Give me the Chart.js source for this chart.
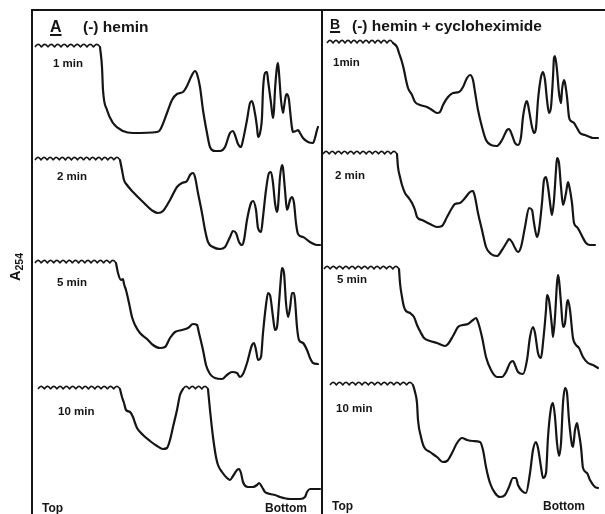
<!DOCTYPE html>
<html><head><meta charset="utf-8">
<script src="https://cdn.jsdelivr.net/npm/chart.js@4"></script>
<style>
html,body{margin:0;padding:0;background:#fff;}
#wrap{position:relative;width:605px;height:514px;overflow:hidden;font-family:"Liberation Sans",Arial,sans-serif;font-weight:bold;color:#151515;}
.ln{position:absolute;background:#151515;}
.t{position:absolute;line-height:1;white-space:nowrap;}
canvas{position:absolute;top:0;}
</style></head>
<body><div id="wrap">
<div class="ln" style="left:31px;top:9px;width:574px;height:2px"></div>
<div class="ln" style="left:31px;top:9px;width:2px;height:505px"></div>
<div class="ln" style="left:321px;top:9px;width:2px;height:505px"></div>
<canvas id="cA" width="290" height="514" style="left:32px;width:290px;height:514px"></canvas>
<canvas id="cB" width="283" height="514" style="left:322px;width:283px;height:514px"></canvas>

<div class="t" style="left:50px;top:18.5px;font-size:16px;text-decoration:underline;text-decoration-thickness:2px;text-underline-offset:2px">A</div>
<div class="t" style="left:83px;top:19px;font-size:15.5px">(-) hemin</div>
<div class="t" style="left:330px;top:17px;font-size:14px;text-decoration:underline;text-decoration-thickness:2px;text-underline-offset:2px">B</div>
<div class="t" style="left:352px;top:17.5px;font-size:15.5px">(-) hemin + cycloheximide</div>

<div class="t" style="left:53px;top:58px;font-size:11.5px">1 min</div>
<div class="t" style="left:57px;top:171px;font-size:11.5px">2 min</div>
<div class="t" style="left:57px;top:277px;font-size:11.5px">5 min</div>
<div class="t" style="left:58px;top:406px;font-size:11.5px">10 min</div>
<div class="t" style="left:333px;top:57px;font-size:11.5px">1min</div>
<div class="t" style="left:335px;top:170px;font-size:11.5px">2 min</div>
<div class="t" style="left:337px;top:274px;font-size:11.5px">5 min</div>
<div class="t" style="left:336px;top:403px;font-size:11.5px">10 min</div>

<div class="t" style="left:42px;top:502px;font-size:12px">Top</div>
<div class="t" style="left:265px;top:502px;font-size:12px">Bottom</div>
<div class="t" style="left:332px;top:500px;font-size:12px">Top</div>
<div class="t" style="left:543px;top:500px;font-size:12px">Bottom</div>

<div class="t" style="left:-4px;top:259px;width:40px;height:16px;text-align:center;transform:rotate(-90deg);will-change:transform;font-size:14.5px">A<span style="font-size:10.5px;position:relative;top:3px">254</span></div>
</div>
<script>
// Panel A: (-) hemin — x: distance from top of gradient, y: A254 deflection
const xA1 = [68,70,71,75,81,91,101,125,128,135,140,145,151,155,160,163,165,168,171,175,178,183,188,193,198,201,203,206,209,211,215,218,220,222,225,226,228,230,231,233,235,236,239,241,242,243,245,246,247,249,251,252,254,255,257,258,260,261,264,266,268,271,276,281,283,285,286];
const yA1 = [103,83,60,40,27,19,17,18,20,37,50,56,58,64,75,79,76,63,40,17,3,-1,-1,3,17,19,15,6,3,10,30,47,49,42,23,13,17,33,60,77,78,70,47,32,40,60,83,87,77,50,37,43,55,56,50,40,22,18,19,20,17,12,8,7,12,20,23];
const offA1 = [[3,68,103]];

const xA2 = [88,90,92,95,101,111,121,126,131,138,145,150,155,158,161,163,166,170,173,176,181,188,193,198,201,204,207,210,212,215,219,221,224,226,229,231,234,237,239,241,243,245,246,248,250,251,253,255,256,258,260,262,264,266,271,278,285,288];
const yA2 = [100,90,80,75,68,58,49,47,49,60,73,77,79,85,87,83,67,47,30,18,13,11,13,23,29,27,18,15,20,40,57,59,50,32,28,43,70,87,88,77,57,48,53,83,95,92,70,50,52,60,63,57,37,26,23,18,15,15];
const offA2 = [[3,88,100]];

const xA5 = [84,86,89,91,92,94,97,100,103,108,115,121,128,133,138,143,150,156,161,165,167,171,174,178,183,190,195,200,205,208,211,215,220,222,224,226,229,231,234,236,238,241,243,245,247,249,250,252,254,256,258,260,262,263,265,267,271,275,278,281,286];
const yA5 = [127,117,110,111,106,100,87,73,65,57,51,45,42,43,52,58,60,62,66,65,57,40,25,16,12,11,15,18,17,13,16,27,45,47,40,30,33,57,85,97,95,73,60,63,87,113,122,117,87,73,82,97,97,90,63,50,47,40,32,27,26];
const offA5 = [[3,84,127]];

const xA10 = [88,90,92,94,98,101,103,105,111,118,125,131,135,138,141,145,148,151,163,176,178,181,184,186,190,195,198,201,205,207,209,211,216,221,225,227,230,233,238,243,248,258,268,273,275,278,283,288];
const yA10 = [121,113,107,100,98,93,87,82,75,69,64,61,62,70,83,100,115,121,null,121,100,73,53,45,38,32,30,34,40,41,37,28,23,23,25,27,23,18,16,15,13,11,11,13,18,21,21,21];
const offA10 = [[6,88,121],[151,176,121]];

// Panel B: (-) hemin + cycloheximide
const xB1 = [71,75,77,80,82,84,86,90,93,98,105,110,115,118,121,126,131,137,141,145,148,151,153,156,160,164,169,175,180,185,187,190,193,196,199,201,204,205,207,210,212,214,216,219,221,223,225,227,229,231,232,233,235,237,239,240,242,243,245,247,249,252,255,258,263,268,271,276];
const yB1 = [107,103,97,88,80,70,62,55,48,45,43,40,37,38,45,53,57,58,63,72,75,70,58,40,23,10,5,4,10,20,21,15,7,5,13,33,48,49,40,23,17,22,50,73,78,70,50,37,43,73,92,94,80,57,47,60,70,67,53,33,29,27,22,17,15,13,12,12];
const offB1 = [[5,71,107]];

const xB2 = [75,76,78,80,83,86,90,93,95,100,108,115,120,125,130,133,138,143,148,151,153,156,160,164,169,175,180,185,187,190,193,196,199,203,207,210,212,215,217,220,222,224,226,229,230,232,234,235,237,239,241,244,246,247,250,252,255,258,261,264,268,273];
const yB2 = [106,93,83,75,67,63,57,50,43,40,36,33,34,43,52,56,57,62,68,69,63,47,30,13,6,4,10,18,21,18,12,8,13,33,52,50,37,23,30,57,80,83,73,50,45,60,90,102,97,73,55,67,78,75,57,37,33,28,22,17,15,15];
const offB2 = [[1,75,106]];

const xB5 = [77,78,80,82,84,88,92,95,99,102,108,115,123,126,131,136,141,146,151,154,156,160,164,169,175,180,184,188,191,193,196,201,205,208,211,213,216,219,221,224,225,227,230,231,233,235,236,237,239,241,243,245,246,248,251,254,257,261,266,271,276];
const yB5 = [121,107,93,83,79,77,73,65,57,52,49,47,44,46,54,63,65,66,70,72,68,53,33,20,13,13,18,27,29,25,18,16,30,53,63,57,37,32,47,80,95,90,63,53,73,107,115,110,87,63,67,87,90,80,52,45,42,33,27,25,22];
const offB5 = [[2,77,121]];

const xB10 = [91,93,95,96,99,102,108,115,121,125,130,135,140,145,151,158,161,164,168,173,178,183,187,191,194,196,200,204,208,211,214,216,219,221,224,226,229,231,233,235,237,239,241,243,245,247,250,251,253,255,256,259,261,265,268,273,276];
const yB10 = [125,118,107,90,73,63,58,53,48,49,57,67,72,70,69,68,60,43,27,17,13,15,23,32,32,25,19,17,37,60,68,62,43,32,37,73,102,107,93,67,54,67,107,122,117,90,65,63,80,87,82,63,42,37,30,23,22];
const offB10 = [[8,91,125]];

// layout (vertical placement of each stacked trace)
const H = 514;
const refsA = [150, 260, 390, 510];
const refsB = [150, 260, 390, 510];

const squiggle = {
  id: 'squiggle',
  afterDatasetsDraw(chart) {
    const ctx = chart.ctx, xs = chart.scales.x;
    chart.data.datasets.forEach(ds => {
      const ys = chart.scales[ds.yAxisID];
      (ds.offScale || []).forEach(([x0, x1, lvl]) => {
        const p0 = xs.getPixelForValue(x0), p1 = xs.getPixelForValue(x1), py = ys.getPixelForValue(lvl);
        const n = Math.max(1, Math.round((p1 - p0) / 6.2));
        const per = (p1 - p0) / n;
        ctx.save();
        ctx.beginPath();
        ctx.strokeStyle = '#151515';
        ctx.lineWidth = 1.6;
        ctx.lineJoin = 'round';
        for (let p = p0; p <= p1 + 0.001; p += 0.4) {
          const yy = py - 2.6 * Math.abs(Math.sin(Math.PI * (p - p0) / per));
          if (p === p0) ctx.moveTo(p, yy); else ctx.lineTo(p, yy);
        }
        ctx.stroke();
        ctx.restore();
      });
    });
  }
};

function trace(xs, ys, off, axis) {
  return {
    data: xs.map((x, i) => ({ x: x, y: ys[i] })),
    offScale: off, yAxisID: axis,
    borderColor: '#151515', borderWidth: 2.2, pointRadius: 0, pointHoverRadius: 0,
    cubicInterpolationMode: 'monotone', clip: false, fill: false, spanGaps: false,
    borderJoinStyle: 'round', borderCapStyle: 'round'
  };
}

function panel(id, width, traces, refs) {
  const scales = { x: { type: 'linear', min: 0, max: width, display: false } };
  refs.forEach((r, i) => { scales['y' + (i + 1)] = { type: 'linear', display: false, min: r - H, max: r }; });
  return new Chart(document.getElementById(id), {
    type: 'line',
    data: { datasets: traces },
    options: {
      responsive: false, animation: false, events: [],
      layout: { padding: 0 },
      plugins: { legend: { display: false }, tooltip: { enabled: false } },
      scales: scales
    },
    plugins: [squiggle]
  });
}

panel('cA', 290, [
  trace(xA1, yA1, offA1, 'y1'),
  trace(xA2, yA2, offA2, 'y2'),
  trace(xA5, yA5, offA5, 'y3'),
  trace(xA10, yA10, offA10, 'y4')
], refsA);

panel('cB', 283, [
  trace(xB1, yB1, offB1, 'y1'),
  trace(xB2, yB2, offB2, 'y2'),
  trace(xB5, yB5, offB5, 'y3'),
  trace(xB10, yB10, offB10, 'y4')
], refsB);
</script>
</body></html>
